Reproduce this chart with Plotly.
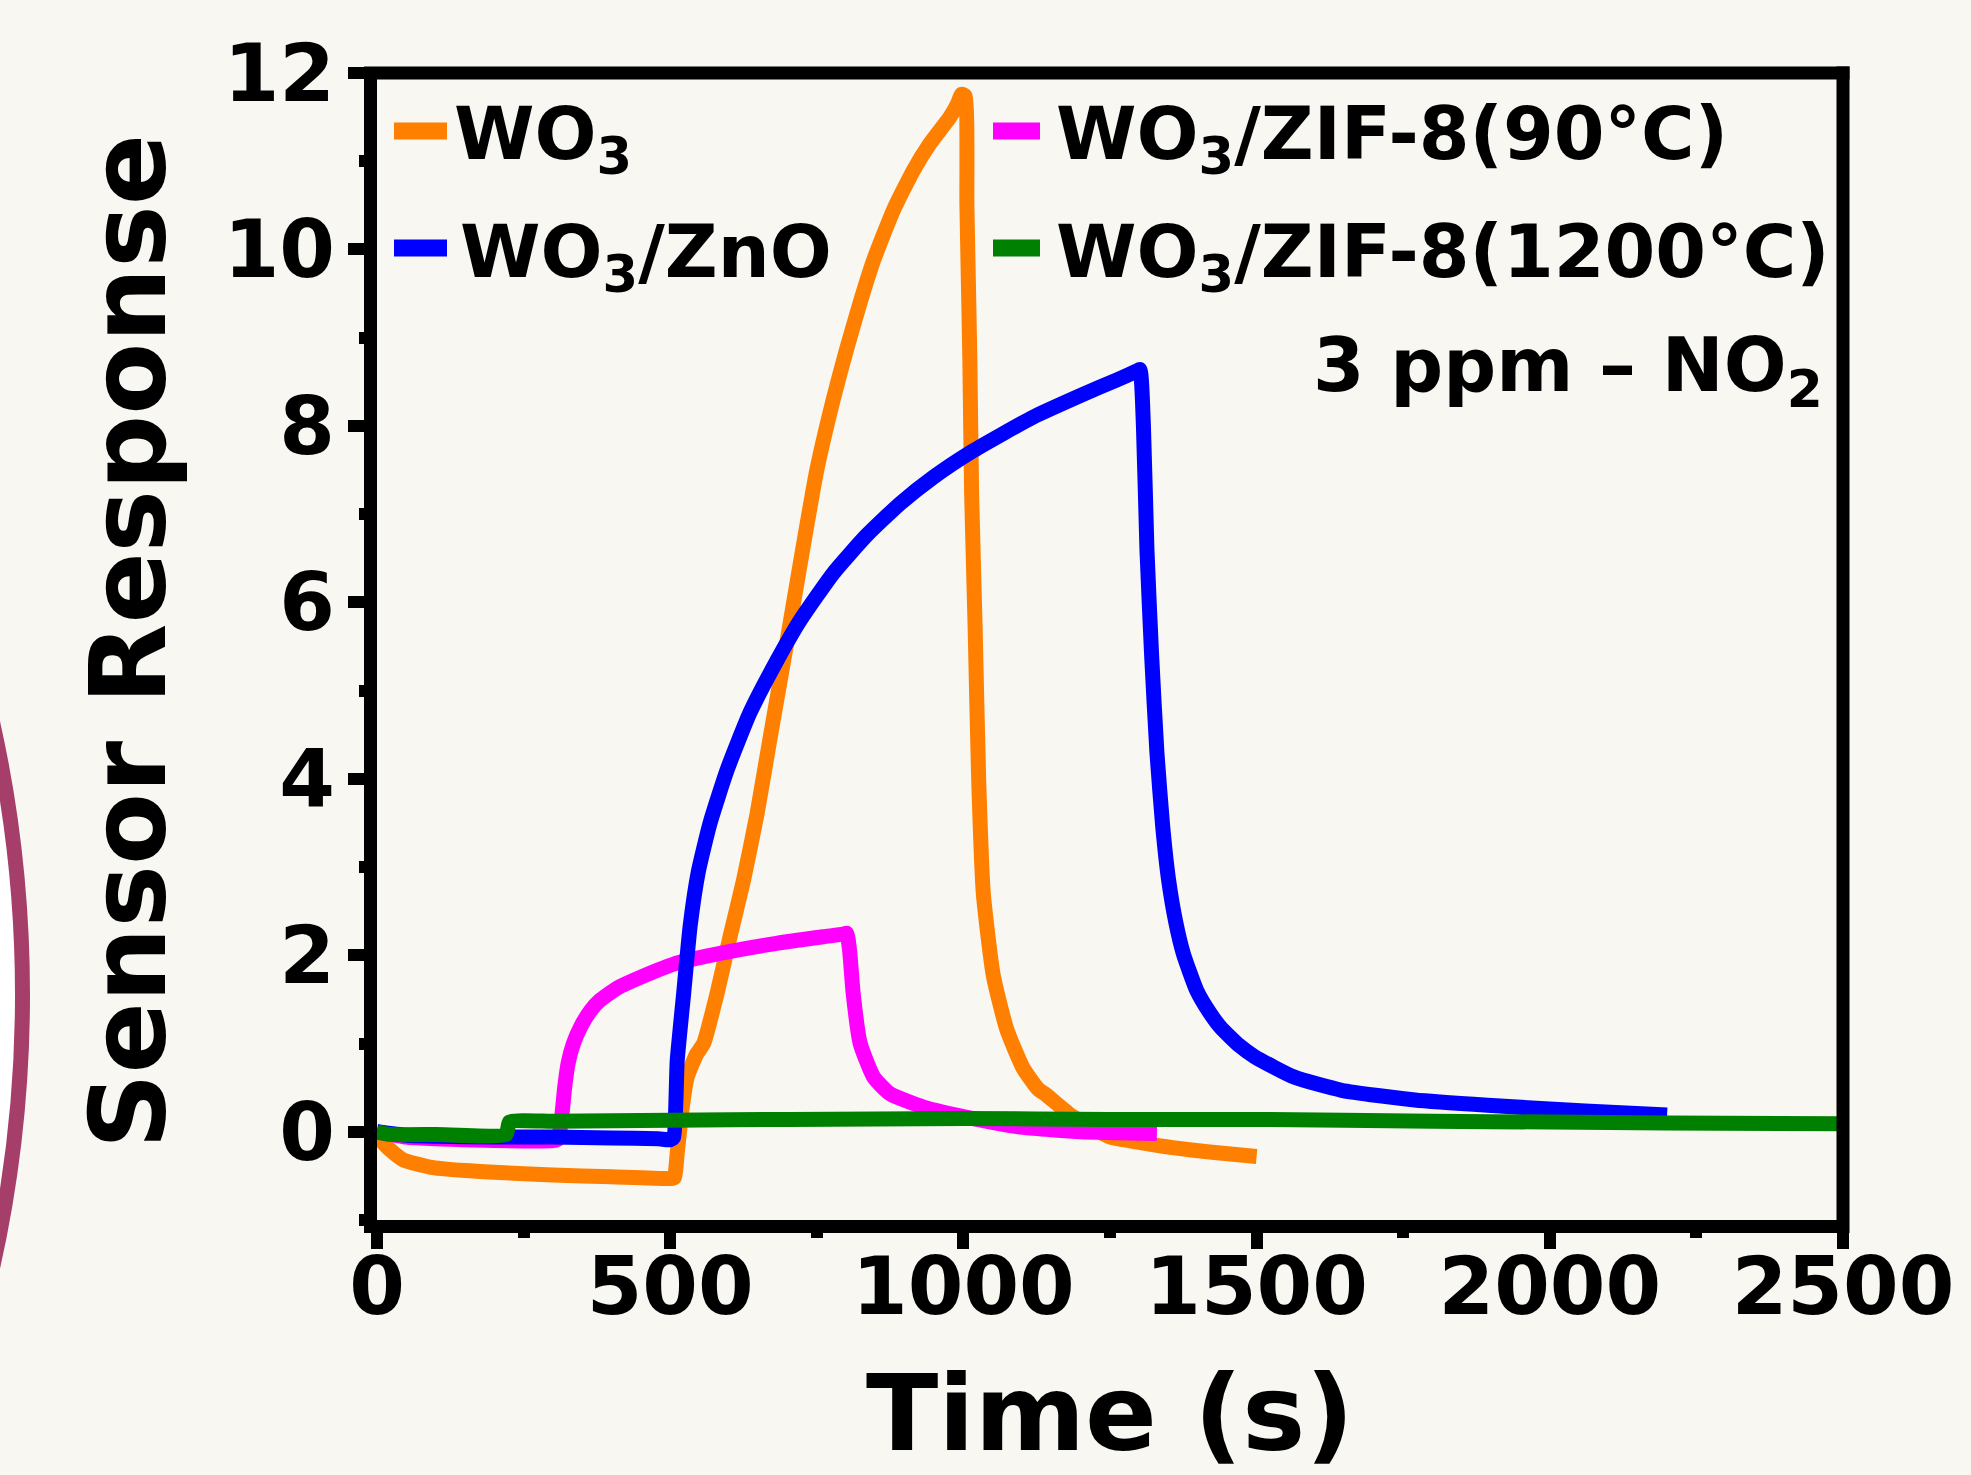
import plotly.graph_objects as go

# ---------------- data ----------------
t_wo3 = [0, 10, 25, 45, 90, 150, 200, 300, 400, 500, 507, 512, 520, 529, 545, 557, 580, 602, 625,
         648, 670, 699, 722, 750, 778, 800, 824, 847, 881, 915, 943, 977, 990, 997, 1003, 1006, 1008,
         1011, 1014, 1020, 1026, 1034, 1051, 1074, 1102, 1128, 1141, 1185, 1250, 1300, 1357, 1420,
         1500]
y_wo3 = [0, -0.12, -0.22, -0.32, -0.40, -0.44, -0.46, -0.49, -0.51, -0.53, -0.52, -0.24, 0.25, 0.62,
         0.88, 1.00, 1.57, 2.21, 2.85, 3.60, 4.45, 5.55, 6.45, 7.50, 8.30, 8.85, 9.40, 9.88, 10.45,
         10.90, 11.20, 11.50, 11.65, 11.76, 11.74, 10.50, 9.80, 8.75, 7.24, 5.72, 4.00, 2.70, 1.77,
         1.16, 0.72, 0.48, 0.42, 0.18, -0.06, -0.12, -0.18, -0.23, -0.28]

t_zno = [0, 50, 100, 200, 300, 400, 480, 500, 506, 512, 523, 534, 548, 568, 597, 636, 682, 722, 778,
         835, 892, 949, 1017, 1119, 1205, 1261, 1295, 1301, 1307, 1313, 1321, 1330, 1340, 1350, 1362,
         1375, 1398, 1420, 1439, 1470, 1497, 1564, 1645, 1770, 1894, 2060, 2200]
y_zno = [0, -0.04, -0.05, -0.06, -0.06, -0.07, -0.08, -0.09, -0.06, 0.81, 1.57, 2.33, 2.95, 3.50,
         4.10, 4.75, 5.34, 5.80, 6.33, 6.76, 7.12, 7.42, 7.72, 8.10, 8.36, 8.52, 8.62, 8.64, 8.00,
         6.60, 5.40, 4.30, 3.45, 2.85, 2.38, 2.02, 1.60, 1.35, 1.18, 0.98, 0.85, 0.62, 0.47, 0.36,
         0.30, 0.235, 0.19]

t_zif90 = [0, 50, 100, 200, 300, 309, 315, 320, 326, 335, 348, 365, 380, 410, 449, 506, 562, 676,
           761, 795, 801, 806, 812, 824, 847, 875, 932, 1017, 1102, 1200, 1330]
y_zif90 = [0, -0.06, -0.08, -0.10, -0.10, -0.08, 0.17, 0.50, 0.78, 1.00, 1.20, 1.38, 1.49, 1.63,
           1.75, 1.90, 1.99, 2.13, 2.21, 2.24, 2.25, 2.05, 1.57, 1.00, 0.62, 0.43, 0.28, 0.15, 0.05,
           0.00, -0.02]

t_zif1200 = [0, 20, 100, 220, 226, 300, 500, 700, 1000, 1250, 1500, 1800, 2000, 2200, 2500]
y_zif1200 = [0.0, -0.03, -0.03, -0.03, 0.11, 0.12, 0.13, 0.14, 0.15, 0.14, 0.14, 0.12, 0.11, 0.10,
             0.09]

series_names = ["WO<sub>3</sub>", "WO<sub>3</sub>/ZnO", "WO<sub>3</sub>/ZIF-8(90°C)",
                "WO<sub>3</sub>/ZIF-8(1200°C)"]
series_colors = ["#ff7f00", "#0000ff", "#ff00ff", "#008000"]

x_ticks = [0, 500, 1000, 1500, 2000, 2500]
y_ticks = [0, 2, 4, 6, 8, 10, 12]

# ---------------- figure ----------------
W, H = 1971, 1475
ML, MR, MT, MB = 377, 128, 73, 255
PW, PH = W - ML - MR, H - MT - MB

def px(x):
    return (x - ML) / PW

def py(y):
    return (H - MB - y) / PH

FONT = "DejaVu Sans"
BG = "#f8f7f2"

fig = go.Figure()
# drawing order: orange, magenta, blue, green (green on top)
order = [(t_wo3, y_wo3, 0, 15), (t_zif90, y_zif90, 2, 15), (t_zno, y_zno, 1, 15),
         (t_zif1200, y_zif1200, 3, 15)]
for tx, ty, i, w in order:
    fig.add_trace(go.Scatter(x=tx, y=ty, mode="lines", name=series_names[i],
                             line=dict(color=series_colors[i], width=w, shape="spline",
                                       smoothing=0.5),
                             showlegend=False))

axis_common = dict(showline=True, linecolor="black", linewidth=13, mirror=False,
                   ticks="outside", ticklen=16, tickwidth=12, tickcolor="black",
                   showgrid=False, zeroline=False,
                   tickfont=dict(family=FONT, size=80, color="black", weight=700))
fig.update_xaxes(range=[0, 2500], tickvals=x_ticks, ticklabelstandoff=-31,
                 minor=dict(dtick=250, ticks="outside", ticklen=5, tickwidth=12, tickcolor="black"),
                 **axis_common)
fig.update_yaxes(range=[-1, 12], tickvals=y_ticks, ticklabelstandoff=-3,
                 minor=dict(dtick=1, ticks="outside", ticklen=5, tickwidth=12, tickcolor="black"),
                 **axis_common)

shapes = []
# decorative arc on the left edge (part of a large circle)
shapes.append(dict(type="circle", xref="paper", yref="paper",
                   x0=px(-1227 - 1249.5), x1=px(-1227 + 1249.5),
                   y0=py(995 + 1249.5), y1=py(995 - 1249.5),
                   line=dict(color="#a63e6a", width=15), fillcolor="white", layer="below"))
# top and right frame lines (centred on the range edges, as in the reference)
shapes.append(dict(type="line", xref="paper", yref="paper", x0=px(364), x1=px(1849.5),
                   y0=1, y1=1, line=dict(color="black", width=13)))
shapes.append(dict(type="line", xref="paper", yref="paper", x0=1, x1=1,
                   y0=py(1233), y1=py(66.5), line=dict(color="black", width=13)))

# legend swatches
leg = [
    (394, 447, 131, 0, 452),
    (394, 447, 248, 1, 458),
    (993, 1040, 131, 2, 1054),
    (993, 1040, 248, 3, 1054),
]
annotations = []
for x0, x1, yy, i, tx in leg:
    shapes.append(dict(type="line", xref="paper", yref="paper", x0=px(x0), x1=px(x1),
                       y0=py(yy), y1=py(yy), line=dict(color=series_colors[i], width=17)))
    annotations.append(dict(text=series_names[i], xref="paper", yref="paper", x=px(tx), y=py(yy + 8),
                            xanchor="left", yanchor="middle", showarrow=False,
                            font=dict(family=FONT, size=73, color="black", weight=700)))

annotations.append(dict(text="3 ppm – NO<sub>2</sub>", xref="paper", yref="paper", x=px(1825),
                        y=py(370), xanchor="right", yanchor="middle", showarrow=False,
                        font=dict(family=FONT, size=74, color="black", weight=700)))
# axis titles
annotations.append(dict(text="Time (s)", xref="paper", yref="paper", x=px(1110), y=py(1413),
                        xanchor="center", yanchor="middle", showarrow=False,
                        font=dict(family=FONT, size=106, color="black", weight=700)))
annotations.append(dict(text="Sensor Response", xref="paper", yref="paper", x=px(129), y=py(642),
                        xanchor="center", yanchor="middle", showarrow=False, textangle=-90,
                        font=dict(family=FONT, size=105, color="black", weight=700)))

fig.update_layout(width=W, height=H, margin=dict(l=ML, r=MR, t=MT, b=MB, autoexpand=False),
                  paper_bgcolor=BG, plot_bgcolor=BG, shapes=shapes, annotations=annotations,
                  showlegend=False)

fig.write_html("out.html", config={"displayModeBar": False},
               post_script="document.body.style.margin='0';"
                           "document.body.style.background='" + BG + "';")
